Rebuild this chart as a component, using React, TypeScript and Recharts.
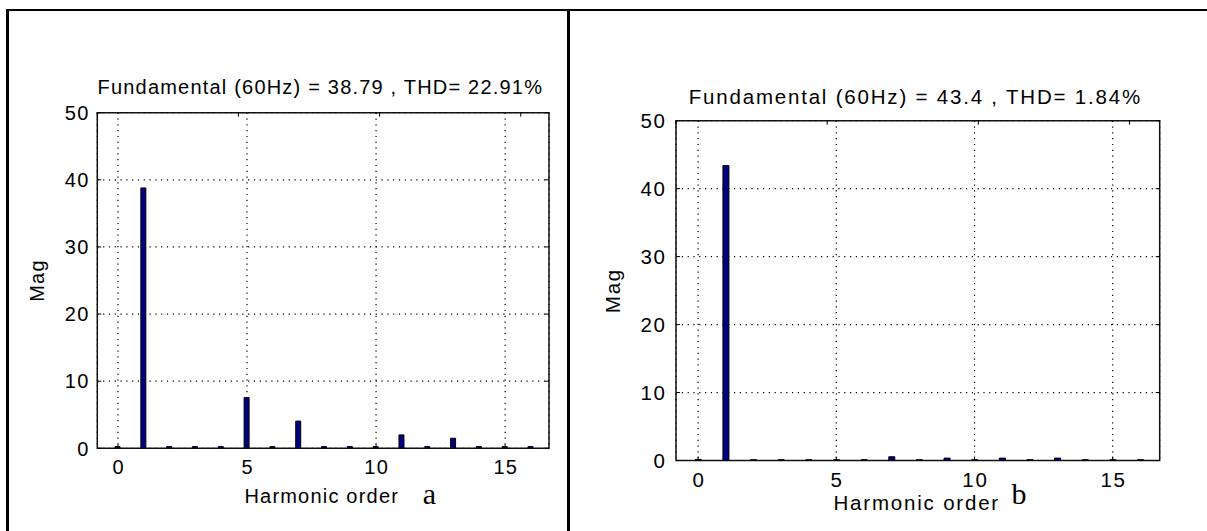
import { BarChart, Bar, XAxis, YAxis, CartesianGrid, ReferenceArea } from 'recharts'

// harmonic spectra
const harmonics = [0, 1, 2, 3, 4, 5, 6, 7, 8, 9, 10, 11, 12, 13, 14, 15, 16]
const magA = [0.25, 38.79, 0.25, 0.25, 0.25, 7.55, 0.25, 4.05, 0.25, 0.25, 0.25, 2.0, 0.25, 1.5, 0.25, 0.25, 0.25]
const magB = [0.15, 43.4, 0.12, 0.12, 0.12, 0.12, 0.12, 0.55, 0.12, 0.35, 0.12, 0.35, 0.12, 0.35, 0.12, 0.12, 0.12]
const xTicks = [0, 5, 10, 15]
const yTicks = [0, 10, 20, 30, 40, 50]
const titleA = 'Fundamental (60Hz) = 38.79 , THD= 22.91%'
const titleB = 'Fundamental (60Hz) = 43.4 , THD= 1.84%'
const xLabel = 'Harmonic order'
const yLabel = 'Mag'

const W = 1207
const H = 531
const FONT = '"Liberation Sans", Arial, sans-serif'
const SERIF = '"Liberation Serif", "Times New Roman", serif'
const INK = '#000'
const BAR = '#000080'
const X_DOMAIN = [-0.8, 16.7]
const Y_DOMAIN = [0, 50]
const AX_H = 60
const AX_W = 60

interface Panel {
  x: number
  width: number
  mag: number[]
  title: string
  tag: string
  plot: { left: number; top: number; right: number; bottom: number }
  fs: number
  ls: number
  barSize: number
  titleDy: number
  labelDy: number
  tagDx: number
  magDx: number
  yTickGap: number
}

const panels: Panel[] = [
  {
    x: 0, width: 565, mag: magA, title: titleA, tag: 'a',
    plot: { left: 97.3, top: 112.7, right: 549, bottom: 448.3 },
    fs: 20, ls: 1.2, barSize: 5, titleDy: 18.7, labelDy: 55, tagDx: 332, magDx: 53.3, yTickGap: 9,
  },
  {
    x: 575, width: 632, mag: magB, title: titleB, tag: 'b',
    plot: { left: 101, top: 120.7, right: 584.7, bottom: 460.5 },
    fs: 20.5, ls: 1.8, barSize: 6, titleDy: 17.2, labelDy: 49.5, tagDx: 343, magDx: 55.5, yTickGap: 11,
  },
]

function Spectrum({ p }: { p: Panel }) {
  const data = harmonics.map((h, i) => ({ h, mag: p.mag[i] }))
  const { plot, fs, ls } = p
  const cx = (plot.left + plot.right) / 2
  const cy = (plot.top + plot.bottom) / 2
  const txt = { fontFamily: FONT, fontSize: fs, letterSpacing: ls, fill: INK }

  return (
    <div style={{ position: 'absolute', left: p.x, top: 0 }}>
      <BarChart
        width={p.width}
        height={H}
        data={data}
        margin={{ top: plot.top - 1, right: p.width - plot.right - 1, bottom: H - plot.bottom - AX_H, left: plot.left - AX_W }}
      >
        <CartesianGrid stroke={INK} strokeWidth={1.2} strokeDasharray="1.2 4.6" />
        <Bar dataKey="mag" fill={BAR} stroke={INK} strokeWidth={1} barSize={p.barSize} isAnimationActive={false} />
        {/* box round the axes */}
        <ReferenceArea
          x1={X_DOMAIN[0]}
          x2={X_DOMAIN[1]}
          y1={Y_DOMAIN[0]}
          y2={Y_DOMAIN[1]}
          fill="none"
          fillOpacity={0}
          stroke="#111"
          strokeWidth={1.5}
          ifOverflow="visible"
        />
        <XAxis
          dataKey="h"
          type="number"
          domain={X_DOMAIN}
          allowDataOverflow
          ticks={xTicks}
          interval={0}
          height={AX_H}
          tickSize={0}
          tickMargin={0}
          tickLine={false}
          axisLine={false}
          tick={(t: any) => (
            <g>
              <line x1={t.x} y1={t.y} x2={t.x} y2={t.y - 4} stroke={INK} />
              <text x={t.x + ls / 2} y={t.y + 26} textAnchor="middle" style={txt}>{t.payload.value}</text>
            </g>
          )}
          label={() => (
            <g>
              <text x={cx - 3.4 + ls / 2} y={plot.top - p.titleDy} textAnchor="middle" style={txt}>{p.title}</text>
              <text x={cx - 2 + ls / 2} y={plot.bottom + p.labelDy} textAnchor="middle" style={txt}>{xLabel}</text>
              <text x={plot.left + p.tagDx} y={504} textAnchor="middle" style={{ fontFamily: SERIF, fontSize: 30, fill: INK }}>{p.tag}</text>
            </g>
          )}
        />
        <XAxis
          xAxisId="top"
          orientation="top"
          type="number"
          domain={X_DOMAIN}
          allowDataOverflow
          ticks={xTicks}
          interval={0}
          height={1}
          tickSize={0}
          tickMargin={0}
          tickLine={false}
          axisLine={false}
          tick={(t: any) => <line x1={t.x} y1={t.y} x2={t.x} y2={t.y + 4} stroke={INK} />}
        />
        <YAxis
          type="number"
          domain={Y_DOMAIN}
          allowDataOverflow
          ticks={yTicks}
          interval={0}
          width={AX_W}
          tickSize={0}
          tickMargin={0}
          tickLine={false}
          axisLine={false}
          tick={(t: any) => (
            <g>
              <line x1={t.x} y1={t.y} x2={t.x + 4} y2={t.y} stroke={INK} />
              <text x={t.x - p.yTickGap + ls} y={t.y + 7.2} textAnchor="end" style={txt}>{t.payload.value}</text>
            </g>
          )}
          label={() => (
            <text
              x={plot.left - p.magDx}
              y={cy}
              transform={`rotate(-90, ${plot.left - p.magDx}, ${cy})`}
              textAnchor="middle"
              style={txt}
            >
              {yLabel}
            </text>
          )}
        />
        <YAxis
          yAxisId="right"
          orientation="right"
          type="number"
          domain={Y_DOMAIN}
          allowDataOverflow
          ticks={yTicks}
          interval={0}
          width={1}
          tickSize={0}
          tickMargin={0}
          tickLine={false}
          axisLine={false}
          tick={(t: any) => <line x1={t.x} y1={t.y} x2={t.x - 4} y2={t.y} stroke={INK} />}
        />
      </BarChart>
    </div>
  )
}

export default function App() {
  return (
    <div style={{ position: 'absolute', left: 0, top: 0, width: W, height: H, overflow: 'hidden', background: '#fff' }}>
      {/* table frame around the two panels */}
      <div style={{ position: 'absolute', left: 6, top: 9, width: W, height: H, borderLeft: '3px solid #000', borderTop: '2px solid #000' }} />
      <div style={{ position: 'absolute', left: 567, top: 9, width: 3, height: H, background: '#000' }} />
      {panels.map(p => <Spectrum key={p.tag} p={p} />)}
    </div>
  )
}
